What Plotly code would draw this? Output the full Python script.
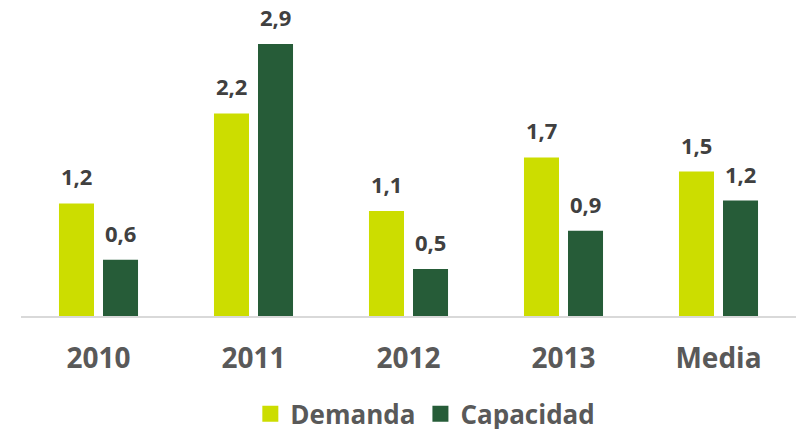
import plotly.graph_objects as go

categories = ["2010", "2011", "2012", "2013", "Media"]
demanda = [1.2, 2.16, 1.12, 1.69, 1.54]
capacidad = [0.6, 2.9, 0.5, 0.91, 1.23]
demanda_labels = ["1,2", "2,2", "1,1", "1,7", "1,5"]
capacidad_labels = ["0,6", "2,9", "0,5", "0,9", "1,2"]

C_DEM = "#CCDD00"
C_CAP = "#265C38"
FONT = "Open Sans"

fig = go.Figure()
fig.add_trace(go.Bar(name="Demanda", x=categories, y=demanda, showlegend=False,
                     marker=dict(color=C_DEM, line=dict(width=0))))
fig.add_trace(go.Bar(name="Capacidad", x=categories, y=capacidad, showlegend=False,
                     marker=dict(color=C_CAP, line=dict(width=0))))
# legend entries with large square swatches
fig.add_trace(go.Scatter(name="Demanda", x=[categories[0]], y=[None], mode="markers",
                         marker=dict(symbol="square", size=18, color=C_DEM)))
fig.add_trace(go.Scatter(name="Capacidad", x=[categories[0]], y=[None], mode="markers",
                         marker=dict(symbol="square", size=18, color=C_CAP)))

label_font = dict(family=FONT, size=22, color="#404040", weight="bold")
annotations = []
for i, (v, t) in enumerate(zip(demanda, demanda_labels)):
    annotations.append(dict(x=i, y=v, text=t, xshift=-22, yshift=10,
                            yanchor="bottom", showarrow=False, font=label_font))
for i, (v, t) in enumerate(zip(capacidad, capacidad_labels)):
    annotations.append(dict(x=i, y=v, text=t, xshift=22, yshift=10,
                            yanchor="bottom", showarrow=False, font=label_font))

fig.update_layout(
    width=798, height=429,
    margin=dict(l=21, r=2, t=10, b=113),
    paper_bgcolor="white", plot_bgcolor="white",
    barmode="group", bargap=0.432, bargroupgap=0.2045,
    showlegend=True,
    legend=dict(orientation="h", x=0.533, xanchor="center", xref="container",
                y=0.09, yanchor="top", yref="container",
                font=dict(family=FONT, size=26, color="#595959", weight="bold"),
                itemwidth=30, traceorder="normal"),
    xaxis=dict(type="category", categoryorder="array", categoryarray=categories,
               range=[-0.5, len(categories) - 0.5],
               showline=True, linecolor="#D9D9D9", linewidth=2, ticks="",
               ticklabelstandoff=16,
               tickfont=dict(family=FONT, size=28, color="#595959", weight="bold"),
               showgrid=False, zeroline=False),
    yaxis=dict(range=[0, 3.262], visible=False, showgrid=False, zeroline=False),
    annotations=annotations,
)

fig.write_html("out.html", config={"displayModeBar": False},
               post_script="document.body.style.margin='0';document.body.style.overflow='hidden';")
